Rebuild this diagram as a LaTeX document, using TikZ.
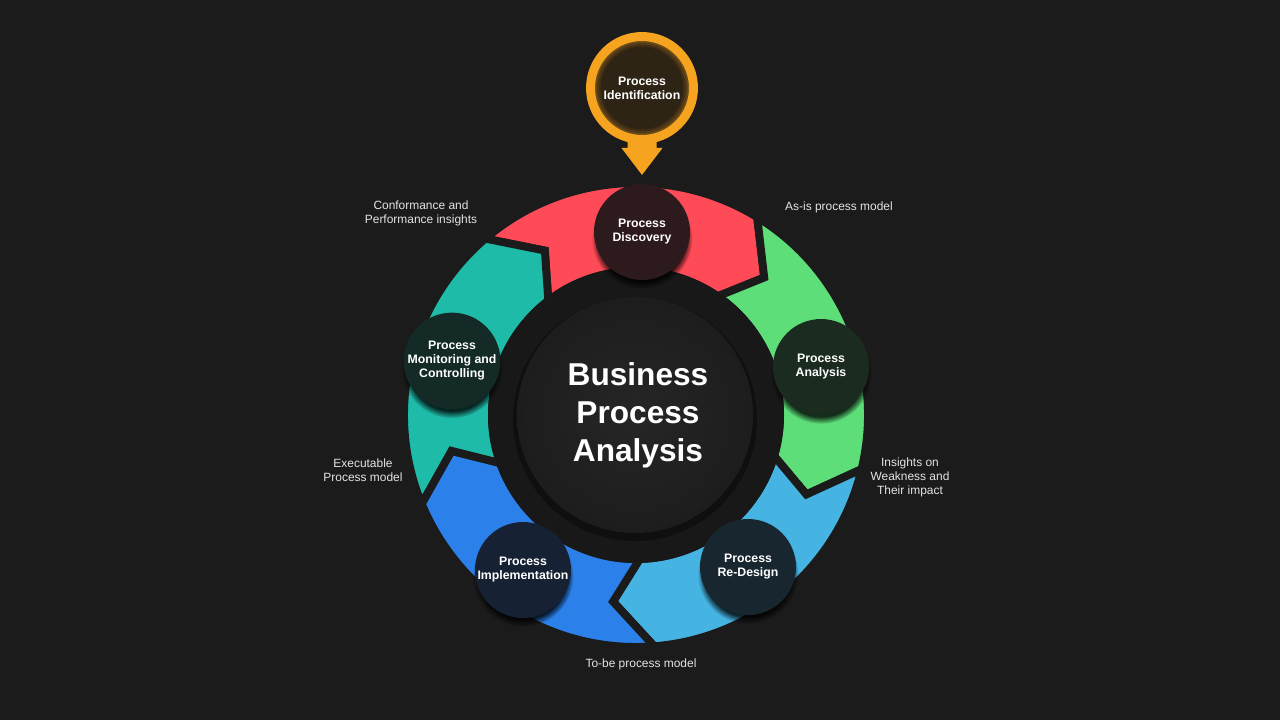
\documentclass[tikz,border=0pt]{standalone}
\usepackage{fontspec}
\setmainfont{Liberation Sans}
\usetikzlibrary{shadows,fadings}
\definecolor{bgdark}{HTML}{1B1B1B}
\definecolor{gapdark}{HTML}{181818}
\definecolor{centergray}{HTML}{262626}
\definecolor{centeredge}{HTML}{1D1D1D}
\definecolor{redarc}{HTML}{FF4B57}
\definecolor{greenarc}{HTML}{5EDE79}
\definecolor{skyarc}{HTML}{45B4E2}
\definecolor{bluearc}{HTML}{2B80E9}
\definecolor{tealarc}{HTML}{1FBBA9}
\definecolor{idorange}{HTML}{F6A31F}
\definecolor{idbrown}{HTML}{2E2415}
\definecolor{discfill}{HTML}{2D1A1D}
\definecolor{analfill}{HTML}{1C2B20}
\definecolor{redesfill}{HTML}{18272F}
\definecolor{implfill}{HTML}{162133}
\definecolor{monifill}{HTML}{132A26}
\definecolor{labelgray}{HTML}{E4E4E4}
\tikzstyle{segment}=[draw=bgdark,line width=4.5pt,line join=miter]
\tikzstyle{stepnode}=[circle,minimum size=1.92cm,inner sep=0pt,align=center,text=white,
  font=\fontsize{7}{8}\selectfont\bfseries,
  circular drop shadow={shadow xshift=0pt,shadow yshift=-3.5pt,shadow scale=1.05,opacity=0.8,fill=black}]
\tikzstyle{idnode}=[circle,minimum size=2.06cm,inner sep=0pt,align=center,text=white,
  draw=idorange,line width=5.1pt,fill=idbrown,font=\fontsize{7}{8}\selectfont\bfseries]
\tikzstyle{title}=[align=center,text=white,font=\fontsize{18}{21.6}\selectfont\bfseries]
\tikzstyle{note}=[align=center,text=labelgray,font=\fontsize{6.8}{8}\selectfont]

\begin{document}
\begin{tikzpicture}[x=0.02cm,y=0.02cm]
  \fill[bgdark] (-636,-305) rectangle (644,415);
  \useasboundingbox (-636,-305) rectangle (644,415);

  % five curved arrows, clockwise
  \foreach \t/\col in {129/redarc,57/greenarc,-15/skyarc,-87/bluearc,-159/tealarc}{
    \pgfmathsetmacro{\h}{\t-72}
    \filldraw[segment,fill=\col] (\t+1.5:232) arc[start angle=\t+1.5,end angle=\h+1.5,radius=232]
      -- (\h-10:188) -- (\h-1.5:144) arc[start angle=\h-1.5,end angle=\t-1.5,radius=144]
      -- (\t-10:188) -- cycle;
  }

  % centre
  \fill[gapdark] (0,0) circle[radius=148];
  \fill[black,opacity=0.35] (-1,-4) circle[radius=122];
  \shade[inner color=centergray,outer color=centeredge] (-1,0) circle[radius=118];
  \node[title] (bpa) at (2,0) {Business\\Process\\Analysis};

  % steps
  \node[stepnode,fill=discfill] (disc) at (6,183) {Process\\Discovery};
  \node[stepnode,fill=analfill] (anal) at (185,48) {Process\\Analysis};
  \node[stepnode,fill=redesfill] (redes) at (112,-152) {Process\\Re-Design};
  \node[stepnode,fill=implfill] (impl) at (-113,-155) {Process\\Implementation};
  \node[stepnode,fill=monifill] (moni) at (-184,54) {Process\\Monitoring and\\Controlling};

  % identification pin
  \node[idnode] (ident) at (6,327) {Process\\Identification};
  \foreach \r/\o in {46.5/0.3,44.5/0.18,42.5/0.09}
    \draw[idorange,opacity=\o,line width=1.2pt] (ident.center) circle[radius=\r];
  \fill[idorange] (ident.south) ++(-14.5,6) -- ++(0,-10) -- ++(-6,0) -- ++(20.5,-27)
    -- ++(20.5,27) -- ++(-6,0) -- ++(0,10) -- cycle;

  % outputs between steps
  \node[note] (conf) at (-215,202) {Conformance and\\Performance insights};
  \node[note] (asis) at (203,208) {As-is process model};
  \node[note] (insight) at (274,-62) {Insights on\\Weakness and\\Their impact};
  \node[note] (exec) at (-273,-55) {Executable\\Process model};
  \node[note] (tobe) at (5,-249) {To-be process model};
\end{tikzpicture}
\end{document}
